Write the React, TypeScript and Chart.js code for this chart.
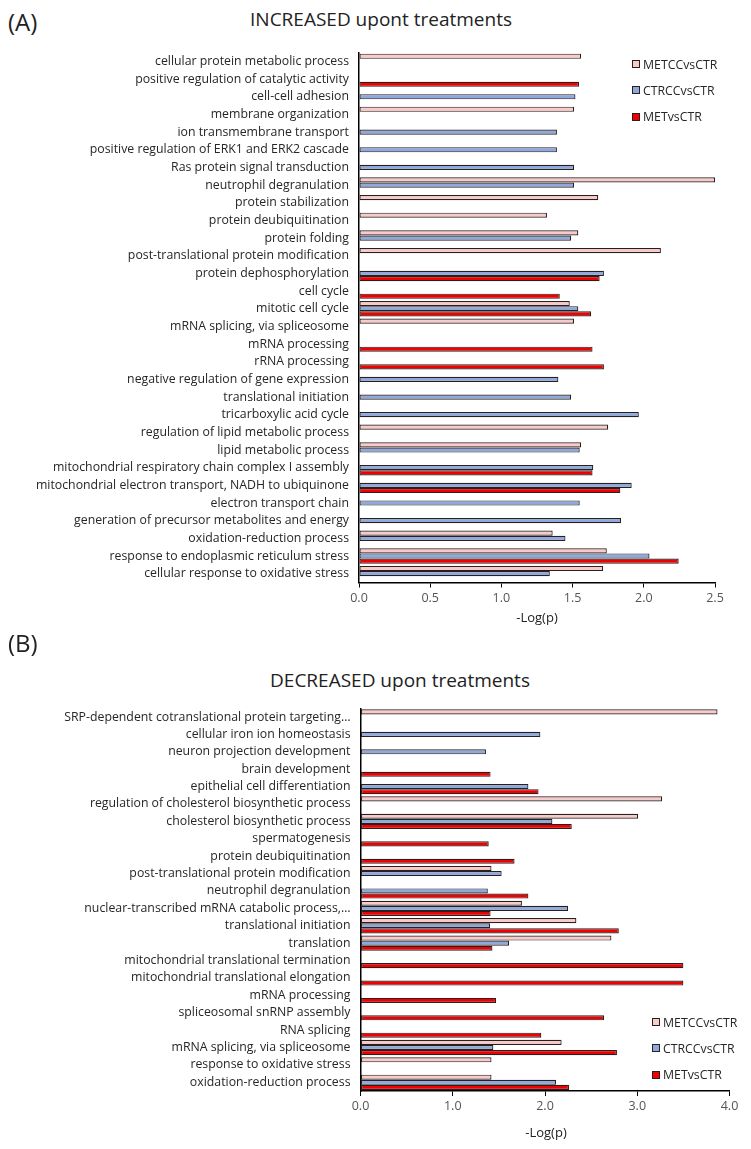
import React, { useEffect, useRef } from "react";
import { Chart, registerables } from "chart.js";

Chart.register(...registerables);

const seriesNames = ["METCCvsCTR", "CTRCCvsCTR", "METvsCTR"];

const catsA = [
  "cellular protein metabolic process",
  "positive regulation of catalytic activity",
  "cell-cell adhesion",
  "membrane organization",
  "ion transmembrane transport",
  "positive regulation of ERK1 and ERK2 cascade",
  "Ras protein signal transduction",
  "neutrophil degranulation",
  "protein stabilization",
  "protein deubiquitination",
  "protein folding",
  "post-translational protein modification",
  "protein dephosphorylation",
  "cell cycle",
  "mitotic cell cycle",
  "mRNA splicing, via spliceosome",
  "mRNA processing",
  "rRNA processing",
  "negative regulation of gene expression",
  "translational initiation",
  "tricarboxylic acid cycle",
  "regulation of lipid metabolic process",
  "lipid metabolic process",
  "mitochondrial respiratory chain complex I assembly",
  "mitochondrial electron transport, NADH to ubiquinone",
  "electron transport chain",
  "generation of precursor metabolites and energy",
  "oxidation-reduction process",
  "response to endoplasmic reticulum stress",
  "cellular response to oxidative stress",
];
const metccA = [1.56, null, null, 1.51, null, null, null, 2.5, 1.68, 1.32, 1.54, 2.12, null, null, 1.48, 1.51, null, null, null, null, null, 1.75, 1.56, null, null, null, null, 1.36, 1.74, 1.715];
const ctrccA = [null, null, 1.52, null, 1.39, 1.39, 1.51, 1.51, null, null, 1.49, null, 1.72, null, 1.54, null, null, null, 1.4, 1.49, 1.965, null, 1.55, 1.645, 1.915, 1.55, 1.84, 1.45, 2.04, 1.34];
const metA = [null, 1.545, null, null, null, null, null, null, null, null, null, null, 1.69, 1.41, 1.63, null, 1.64, 1.72, null, null, null, null, null, 1.64, 1.835, null, null, null, 2.245, null];

const catsB = [
  "SRP-dependent cotranslational protein targeting…",
  "cellular iron ion homeostasis",
  "neuron projection development",
  "brain development",
  "epithelial cell differentiation",
  "regulation of cholesterol biosynthetic process",
  "cholesterol biosynthetic process",
  "spermatogenesis",
  "protein deubiquitination",
  "post-translational protein modification",
  "neutrophil degranulation",
  "nuclear-transcribed mRNA catabolic process,…",
  "translational initiation",
  "translation",
  "mitochondrial translational termination",
  "mitochondrial translational elongation",
  "mRNA processing",
  "spliceosomal snRNP assembly",
  "RNA splicing",
  "mRNA splicing, via spliceosome",
  "response to oxidative stress",
  "oxidation-reduction process",
];
const metccB = [3.87, null, null, null, null, 3.27, 3.01, null, null, 1.42, null, 1.75, 2.34, 2.72, null, null, null, null, null, 2.18, 1.42, 1.42];
const ctrccB = [null, 1.95, 1.36, null, 1.82, null, 2.08, null, null, 1.53, 1.38, 2.25, 1.405, 1.61, null, null, null, null, null, 1.44, null, 2.12];
const metB = [null, null, null, 1.41, 1.93, null, 2.29, 1.39, 1.67, null, 1.82, 1.41, 2.8, 1.43, 3.5, 3.5, 1.47, 2.64, 1.96, 2.78, null, 2.26];

const xTicksA = { max: 2.5, step: 0.5 };
const xTicksB = { max: 4.0, step: 1.0 };

const COLORS = ["#F9CACA", "#8EA9DB", "#F00000"];
const EDGE = "#2a1f1f";
const FONT = "'Open Sans', 'Noto Sans', sans-serif";

type PanelProps = {
  cats: string[];
  series: (number | null)[][];
  max: number;
  step: number;
  top: number;
  height: number;
  padTop: number;
  axisH: number;
  leftW: number;
  padRight: number;
};

function BarPanel(p: PanelProps) {
  const ref = useRef<HTMLCanvasElement | null>(null);
  useEffect(() => {
    if (!ref.current) return;
    const chart = new Chart(ref.current, {
      type: "bar",
      data: {
        labels: p.cats,
        datasets: p.series.map((d, i) => ({
          label: seriesNames[i],
          data: d,
          backgroundColor: COLORS[i],
          borderColor: EDGE,
          borderWidth: 1.2,
          borderSkipped: false,
          categoryPercentage: 0.88,
          barPercentage: 1.0,
        })),
      },
      options: {
        indexAxis: "y",
        animation: false,
        responsive: false,
        maintainAspectRatio: false,
        layout: { padding: { top: p.padTop, right: p.padRight, bottom: 0, left: 0 } },
        plugins: {
          legend: { display: false },
          title: { display: false },
          tooltip: { enabled: false },
        },
        scales: {
          x: {
            type: "linear",
            min: 0,
            max: p.max,
            ticks: {
              stepSize: p.step,
              callback: (v: any) => Number(v).toFixed(1),
              font: { family: FONT, size: 12.5 },
              color: "#555",
              padding: 3,
            },
            grid: {
              display: true,
              drawOnChartArea: false,
              drawTicks: true,
              tickLength: 5,
              color: "#000",
              lineWidth: 1,
            },
            border: { display: true, color: "#000", width: 1.5 },
            afterFit: (s: any) => {
              s.height = p.axisH;
              s.paddingLeft = 0;
              s.paddingRight = 0;
            },
          },
          y: {
            ticks: {
              autoSkip: false,
              font: { family: FONT, size: 12.3 },
              color: "#262626",
              padding: 10,
            },
            grid: { display: false, drawTicks: false },
            border: { display: true, color: "#000", width: 1.5 },
            afterFit: (s: any) => {
              s.width = p.leftW;
              s.paddingTop = 0;
              s.paddingBottom = 0;
            },
          },
        },
      },
    } as any);
    return () => chart.destroy();
  }, []);
  return (
    <canvas
      ref={ref}
      width={751}
      height={p.height}
      style={{ position: "absolute", left: 0, top: p.top, width: 751, height: p.height }}
    />
  );
}

function Legend({ left, top }: { left: number; top: number }) {
  return (
    <>
      {seriesNames.map((n, i) => (
        <div
          key={n}
          style={{
            position: "absolute",
            left,
            top: top + i * 26.3 - 9,
            height: 18,
            display: "flex",
            alignItems: "center",
            fontFamily: FONT,
            fontSize: 12.3,
            color: "#262626",
            whiteSpace: "nowrap",
          }}
        >
          <span
            style={{
              display: "inline-block",
              width: 6,
              height: 6,
              background: COLORS[i],
              border: `1.5px solid ${EDGE}`,
              marginRight: 3,
            }}
          />
          {n}
        </div>
      ))}
    </>
  );
}

const textStyle = (left: number, top: number, size: number, center = true): React.CSSProperties => ({
  position: "absolute",
  left,
  top,
  fontFamily: FONT,
  fontSize: size,
  color: "#222",
  whiteSpace: "nowrap",
  lineHeight: `${size}px`,
  transform: center ? "translate(-50%, -50%)" : "translate(0, -50%)",
});

export default function App() {
  useEffect(() => {
    document.body.style.margin = "0";
  }, []);
  return (
    <div style={{ position: "relative", width: 751, height: 1149, background: "#fff", overflow: "hidden" }}>
      <div style={textStyle(8, 22, 24, false)}>(A)</div>
      <div style={textStyle(381, 19, 19)}>INCREASED upont treatments</div>
      <BarPanel
        cats={catsA}
        series={[metccA, ctrccA, metA]}
        max={xTicksA.max}
        step={xTicksA.step}
        top={40}
        height={590}
        padTop={12.6}
        axisH={47.5}
        leftW={359}
        padRight={36}
      />
      <Legend left={632} top={64} />
      <div style={textStyle(537, 617, 13)}>-Log(p)</div>

      <div style={textStyle(8, 643, 24, false)}>(B)</div>
      <div style={textStyle(400, 680, 19)}>DECREASED upon treatments</div>
      <BarPanel
        cats={catsB}
        series={[metccB, ctrccB, metB]}
        max={xTicksB.max}
        step={xTicksB.step}
        top={690}
        height={450}
        padTop={18.3}
        axisH={49}
        leftW={360.5}
        padRight={21.5}
      />
      <Legend left={652} top={1022} />
      <div style={textStyle(546, 1132, 13)}>-Log(p)</div>
    </div>
  );
}
